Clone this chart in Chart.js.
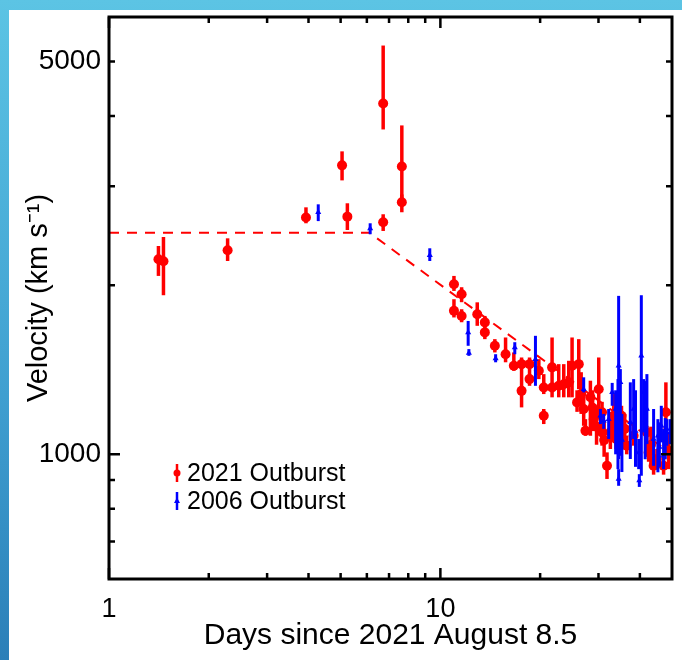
<!DOCTYPE html>
<html>
<head>
<meta charset="utf-8">
<title>Velocity vs days</title>
<script src="https://cdn.jsdelivr.net/npm/chart.js@4.4.0/dist/chart.umd.min.js"></script>
<style>
  html, body { margin: 0; padding: 0; }
  body {
    width: 682px; height: 660px; overflow: hidden; position: relative;
    background: linear-gradient(to bottom, #5cc4e4 0%, #3f9fd0 60%, #2b7fb8 100%);
  }
  #frame { position: absolute; left: 9px; top: 10px; width: 673px; height: 650px; background: #fff; }
</style>
</head>
<body>
<div id="frame"><canvas id="velChart" width="673" height="650"></canvas></div>
<script>
'use strict'

//++++++++++++++ Data ++++++++++++++//
// 2021 outburst: days, velocity, lower / upper end of the error bar
let redX    = [1.41, 1.46, 2.28, 3.93, 5.05, 5.24, 6.72, 6.72, 7.65, 7.65,
               10.99, 11.59, 10.99, 11.59, 12.92, 13.62, 13.62, 14.60, 15.73, 16.66,
               17.58, 17.58, 18.58, 18.58, 19.82, 20.51, 20.51, 21.73, 21.73, 22.76,
               23.57, 24.40, 24.97, 25.85, 26.16, 27.07, 27.40, 28.36, 29.02, 30.05,
               30.75, 30.75, 31.83, 32.58, 33.34, 33.90, 35.20, 36.50, 38.30, 42.00,
               42.50, 44.00, 45.02, 47.16, 47.72, 47.92, 48.82, 26.60, 28.80, 29.60,
               31.20, 36.00, 43.20];
let redY    = [2224, 2206, 2307, 2638, 3267, 2648, 4211, 2587, 3253, 2808,
               2008, 1927, 1800, 1763, 1775, 1717, 1648, 1560, 1507, 1437,
               1297, 1447, 1361, 1447, 1408, 1315, 1171, 1428, 1315, 1324,
               1333, 1343, 1437, 1237, 1447, 1204, 1101, 1263, 1155, 1306,
               1188, 1094, 954, 1094, 1171, 1065, 1171, 1036, 1079, 1094,
               1008, 954, 981, 954, 1079, 1188, 1015, 1280, 1210, 1120,
               1060, 1110, 1040];
let redLow  = [2077, 1919, 2208, 2577, 3072, 2507, 3785, 2497, 2843, 2696,
               1953, 1865, 1752, 1718, 1693, 1682, 1603, 1518, 1458, 1408,
               1212, 1420, 1324, 1425, 1361, 1280, 1132, 1263, 1290, 1263,
               1263, 1263, 1263, 1190, 1306, 1124, 1079, 1079, 1100, 1155,
               1140, 1036, 904, 1022, 1079, 1022, 1094, 1000, 1036, 1008,
               970, 920, 954, 920, 1036, 1079, 941, 1180, 1100, 1040,
               990, 1040, 960];
let redHigh = [2348, 2436, 2423, 2751, 3460, 2797, 5338, 2674, 3848, 2900,
               2077, 1983, 1888, 1812, 1864, 1763, 1691, 1603, 1614, 1518,
               1487, 1475, 1487, 1470, 1477, 1389, 1204, 1614, 1340, 1447,
               1447, 1467, 1614, 1300, 1603, 1306, 1155, 1352, 1212, 1487,
               1240, 1140, 1008, 1188, 1280, 1109, 1220, 1080, 1140, 1124,
               1050, 990, 1022, 1000, 1120, 1343, 1065, 1400, 1300, 1220,
               1150, 1180, 1120];

// 2006 outburst
let blueX    = [4.28, 6.14, 9.29, 12.13, 12.19, 14.68, 16.77, 19.36, 27.07, 30.41,
                31.11, 32.20, 33.00, 34.35, 34.51, 34.92, 34.51, 37.43, 38.30, 39.66,
                39.84, 40.40, 41.05, 42.00, 44.00, 45.33, 46.42, 47.16, 48.25, 49.40,
                33.80, 35.30, 38.80, 41.50, 45.80, 47.70];
let blueY    = [2696, 2522, 2260, 1648, 1514, 1481, 1549, 1477, 1306, 1171,
                1147, 1155, 1289, 1155, 1437, 1343, 904, 1140, 1204, 1008,
                898, 1497, 1289, 1204, 1065, 1079, 1124, 994, 1109, 1094,
                1204, 1060, 1100, 1150, 1030, 1060];
let blueLow  = [2600, 2464, 2208, 1560, 1497, 1458, 1507, 1324, 1289, 1132,
                1110, 1065, 1220, 941, 981, 994, 879, 981, 1065, 941,
                875, 916, 1094, 1043, 954, 929, 1050, 941, 1036, 1043,
                1000, 930, 950, 980, 950, 980];
let blueHigh = [2785, 2577, 2326, 1727, 1539, 1507, 1583, 1625, 1371, 1204,
                1180, 1204, 1340, 1361, 1914, 1418, 941, 1343, 1361, 1065,
                922, 1919, 1361, 1389, 1204, 1155, 1220, 1109, 1155, 1155,
                1300, 1180, 1300, 1350, 1140, 1160];

// broken power-law fit
let fitX = [1, 6.1, 50];
let fitY = [2480, 2480, 1000];

// axes
let xTickValues = [1, 2, 3, 4, 5, 6, 7, 8, 9, 10, 20, 30, 40];
let xMajor = [1, 10];
let xLabels = [1, 10];
let yTickValues = [700, 800, 900, 1000, 2000, 3000, 4000, 5000];
let yMajor = [1000];
let yLabels = [1000, 5000];

let fontFamily = '"Liberation Sans", Arial, Helvetica, sans-serif';

function toPoints(xs, ys) {
  return xs.map((x, i) => ({ x: x, y: ys[i] }));
}

//++++++++++++++ Plugins ++++++++++++++//
const errorBars = {
  id: 'errorBars',
  beforeDatasetDraw(chart, args) {
    let ds = chart.data.datasets[args.index];
    if (!ds.errLow) return;
    let { ctx, chartArea, scales } = chart;
    ctx.save();
    ctx.beginPath();
    ctx.rect(chartArea.left, chartArea.top, chartArea.right - chartArea.left, chartArea.bottom - chartArea.top);
    ctx.clip();
    ctx.strokeStyle = ds.borderColor;
    ctx.lineWidth = ds.errWidth;
    ds.data.forEach((p, i) => {
      let px = scales.x.getPixelForValue(p.x);
      ctx.beginPath();
      ctx.moveTo(px, scales.y.getPixelForValue(ds.errLow[i]));
      ctx.lineTo(px, scales.y.getPixelForValue(ds.errHigh[i]));
      ctx.stroke();
    });
    ctx.restore();
  }
};

const axisFrame = {
  id: 'axisFrame',
  afterDatasetsDraw(chart) {
    let { ctx, chartArea: { left, right, top, bottom }, scales } = chart;
    ctx.save();
    ctx.strokeStyle = '#000';
    ctx.lineWidth = 3;
    ctx.strokeRect(left, top, right - left, bottom - top);
    ctx.lineWidth = 2.5;
    ctx.beginPath();
    xTickValues.forEach(v => {
      let px = scales.x.getPixelForValue(v);
      let len = xMajor.includes(v) ? 11 : 6;
      ctx.moveTo(px, bottom); ctx.lineTo(px, bottom - len);
      ctx.moveTo(px, top); ctx.lineTo(px, top + len);
    });
    yTickValues.forEach(v => {
      let py = scales.y.getPixelForValue(v);
      let len = yMajor.includes(v) ? 11 : 6;
      ctx.moveTo(left, py); ctx.lineTo(left + len, py);
      ctx.moveTo(right, py); ctx.lineTo(right - len, py);
    });
    ctx.stroke();
    ctx.restore();
  }
};

const legendBox = {
  id: 'legendBox',
  afterDraw(chart) {
    let { ctx, chartArea: { left, bottom } } = chart;
    let rows = chart.data.datasets.filter(d => d.errLow);
    ctx.save();
    ctx.font = '25px ' + fontFamily;
    ctx.textBaseline = 'middle';
    rows.forEach((ds, i) => {
      let mx = left + 68;
      let my = bottom - 106 + i * 28;
      ctx.strokeStyle = ds.borderColor;
      ctx.fillStyle = ds.borderColor;
      ctx.lineWidth = 2.5;
      ctx.beginPath();
      ctx.moveTo(mx, my - 9); ctx.lineTo(mx, my + 9);
      ctx.stroke();
      ctx.beginPath();
      if (ds.pointStyle === 'circle') {
        ctx.arc(mx, my, 3.5, 0, Math.PI * 2);
      } else {
        ctx.moveTo(mx, my - 3.5); ctx.lineTo(mx + 3, my + 2); ctx.lineTo(mx - 3, my + 2);
      }
      ctx.fill();
      ctx.fillStyle = '#000';
      ctx.fillText(ds.label, mx + 10, my + 1);
    });
    ctx.restore();
  }
};

//++++++++++++++ Chart ++++++++++++++//
const ctx = document.getElementById('velChart').getContext('2d');
const velChart = new Chart(ctx, {
  type: 'scatter',
  data: {
    datasets: [{
      type: 'line',
      label: 'fit',
      data: toPoints(fitX, fitY),
      borderColor: '#ff0000',
      borderWidth: 2,
      borderDash: [10, 8],
      pointRadius: 0,
      fill: false,
      order: 1
    }, {
      label: '2021 Outburst',
      data: toPoints(redX, redY),
      errLow: redLow,
      errHigh: redHigh,
      errWidth: 3.5,
      pointStyle: 'circle',
      pointRadius: 5,
      backgroundColor: '#ff0000',
      borderColor: '#ff0000',
      borderWidth: 0,
      order: 2
    }, {
      label: '2006 Outburst',
      data: toPoints(blueX, blueY),
      errLow: blueLow,
      errHigh: blueHigh,
      errWidth: 3,
      pointStyle: 'triangle',
      pointRadius: 3.5,
      backgroundColor: '#0000ff',
      borderColor: '#0000ff',
      borderWidth: 0,
      order: 0
    }]
  },
  options: {
    responsive: false,
    animation: false,
    layout: { padding: { left: 0, top: 7, right: 10, bottom: 0 } },
    plugins: { legend: { display: false }, tooltip: { enabled: false } },
    scales: {
      x: {
        type: 'logarithmic',
        min: 1,
        max: 50,
        grid: { display: false, drawTicks: false },
        border: { display: false },
        afterBuildTicks: scale => { scale.ticks = xTickValues.map(v => ({ value: v })); },
        afterFit: scale => { scale.height = 81; scale.paddingLeft = 0; scale.paddingRight = 0; },
        ticks: {
          autoSkip: false, maxRotation: 0, padding: 14, color: '#000',
          font: { family: fontFamily, size: 27 },
          callback: v => xLabels.includes(v) ? String(v) : ''
        },
        title: {
          display: true, text: 'Days since 2021 August 8.5', color: '#000',
          font: { family: fontFamily, size: 30 }, padding: { top: 0, bottom: 6 }
        }
      },
      y: {
        type: 'logarithmic',
        min: 600,
        max: 6000,
        grid: { display: false, drawTicks: false },
        border: { display: false },
        afterBuildTicks: scale => { scale.ticks = yTickValues.map(v => ({ value: v })); },
        afterFit: scale => { scale.width = 100; scale.paddingTop = 0; scale.paddingBottom = 0; },
        ticks: {
          autoSkip: false, padding: 8, color: '#000',
          font: { family: fontFamily, size: 28 },
          callback: v => yLabels.includes(v) ? String(v) : ''
        },
        title: {
          display: true, text: 'Velocity (km s⁻¹)', color: '#000',
          font: { family: fontFamily, size: 29 }, padding: { top: 13, bottom: 0 }
        }
      }
    }
  },
  plugins: [errorBars, axisFrame, legendBox]
});
</script>
</body>
</html>
